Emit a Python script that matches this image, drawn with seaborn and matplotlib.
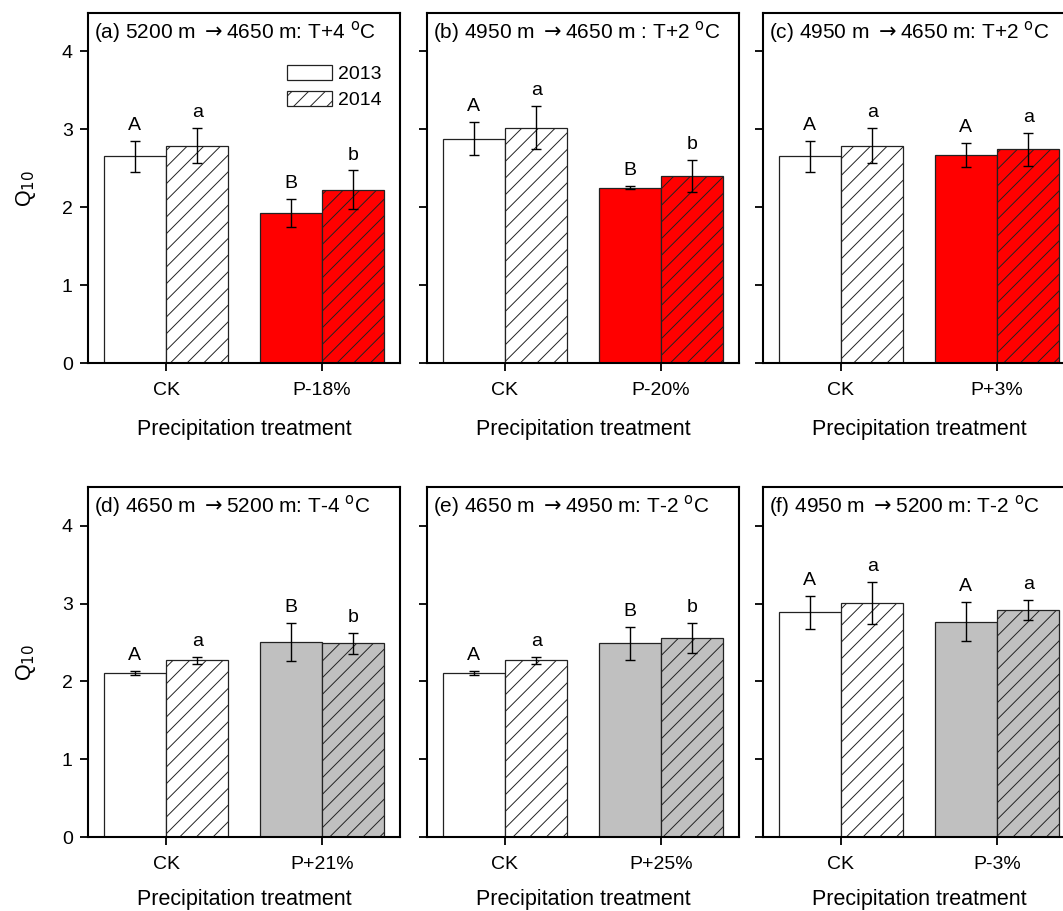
import matplotlib
matplotlib.use("Agg")
import matplotlib.pyplot as plt
from matplotlib.patches import Patch
import seaborn as sns
import pandas as pd
import numpy as np

# ---------------- data ----------------
panel_titles = [
    r"(a) 5200 m $\rightarrow$4650 m: T+4 $^{\rm o}$C",
    r"(b) 4950 m $\rightarrow$4650 m : T+2 $^{\rm o}$C",
    r"(c) 4950 m $\rightarrow$4650 m: T+2 $^{\rm o}$C",
    r"(d) 4650 m $\rightarrow$5200 m: T-4 $^{\rm o}$C",
    r"(e) 4650 m $\rightarrow$4950 m: T-2 $^{\rm o}$C",
    r"(f) 4950 m $\rightarrow$5200 m: T-2 $^{\rm o}$C",
]
treatments = ["P-18%", "P-20%", "P+3%", "P+21%", "P+25%", "P-3%"]
years = ["2013", "2014"]

ck_2013 = [2.65, 2.88, 2.65, 2.11, 2.11, 2.89]
ck_2013_err = [0.20, 0.21, 0.20, 0.03, 0.03, 0.21]
ck_2014 = [2.79, 3.02, 2.79, 2.27, 2.27, 3.01]
ck_2014_err = [0.22, 0.28, 0.22, 0.04, 0.04, 0.27]
trt_2013 = [1.92, 2.25, 2.67, 2.51, 2.49, 2.77]
trt_2013_err = [0.18, 0.02, 0.15, 0.245, 0.215, 0.25]
trt_2014 = [2.22, 2.40, 2.74, 2.49, 2.56, 2.92]
trt_2014_err = [0.25, 0.21, 0.21, 0.135, 0.195, 0.13]

ck_2013_letter = ["A", "A", "A", "A", "A", "A"]
ck_2014_letter = ["a", "a", "a", "a", "a", "a"]
trt_2013_letter = ["B", "B", "A", "B", "B", "A"]
trt_2014_letter = ["b", "b", "a", "b", "b", "a"]

trt_colors = ["#FF0000", "#FF0000", "#FF0000", "#C0C0C0", "#C0C0C0", "#C0C0C0"]

# ---------------- style ----------------
sns.set_theme(style="ticks")
plt.rcParams["font.family"] = ["Liberation Sans", "DejaVu Sans"]
plt.rcParams["hatch.linewidth"] = 0.7
plt.rcParams["hatch.color"] = "black"
plt.rcParams["axes.linewidth"] = 1.5
for k in ["text.color", "axes.labelcolor", "xtick.color", "ytick.color",
          "axes.edgecolor", "xtick.labelcolor", "ytick.labelcolor"]:
    plt.rcParams[k] = "black"

W, H = 1063, 911
fig = plt.figure(figsize=(W / 100, H / 100), dpi=100)

col_left = [88, 427, 763]
col_w = 312
row_top = [13, 487]
row_h = 350

for i in range(6):
    r, c = divmod(i, 3)
    left = col_left[c] / W
    bottom = 1 - (row_top[r] + row_h) / H
    ax = fig.add_axes([left, bottom, col_w / W, row_h / H])

    order = ["CK", treatments[i]]
    df = pd.DataFrame({
        "treatment": ["CK", "CK", treatments[i], treatments[i]],
        "year": ["2013", "2014", "2013", "2014"],
        "q10": [ck_2013[i], ck_2014[i], trt_2013[i], trt_2014[i]],
    })
    sns.barplot(data=df, x="treatment", y="q10", hue="year", order=order,
                hue_order=years, errorbar=None, width=0.8, saturation=1,
                palette=["white", "white"], edgecolor="#222222", linewidth=0.9,
                legend=False, ax=ax)

    vals = [ck_2013[i], ck_2014[i], trt_2013[i], trt_2014[i]]
    errs = [ck_2013_err[i], ck_2014_err[i], trt_2013_err[i], trt_2014_err[i]]
    lets = [ck_2013_letter[i], ck_2014_letter[i], trt_2013_letter[i], trt_2014_letter[i]]
    faces = ["white", "white", trt_colors[i], trt_colors[i]]
    hatches = [None, "//", None, "//"]

    bars = sorted(ax.patches, key=lambda p: p.get_x())
    for b, v, e, lt, fc, ht in zip(bars, vals, errs, lets, faces, hatches):
        b.set_facecolor(fc)
        b.set_edgecolor("#222222")
        if ht:
            b.set_hatch(ht)
        xc = b.get_x() + b.get_width() / 2
        ax.errorbar(xc, v, yerr=e, fmt="none", ecolor="black", elinewidth=1.0,
                    capsize=3.3, capthick=1.0, zorder=5)
        ax.text(xc, v + e + 0.14, lt, ha="center", va="baseline", fontsize=14)

    ax.set_xlim(-0.5, 1.5)
    ax.set_ylim(0, 4.49 if r == 0 else 4.5)
    ax.set_yticks([0, 1, 2, 3, 4])
    if c == 0:
        ax.set_yticklabels(["0", "1", "2", "3", "4"])
        ax.set_ylabel("Q$_{10}$", fontsize=15.5, labelpad=17)
    else:
        ax.set_yticklabels([])
        ax.set_ylabel("")
    ax.set_xlabel("Precipitation treatment", fontsize=15.5,
                  labelpad=14 if r == 0 else 11)
    ax.tick_params(axis="both", direction="out", length=6, width=1.3,
                   labelsize=14, top=False, right=False)
    ax.tick_params(axis="x", pad=8)
    ax.tick_params(axis="y", pad=5)
    for s in ax.spines.values():
        s.set_visible(True)
        s.set_linewidth(1.5)
        s.set_color("black")

    ax.text(0.02, 0.946, panel_titles[i], transform=ax.transAxes,
            ha="left", va="center", fontsize=15)

    if i == 0:
        handles = [Patch(facecolor="white", edgecolor="#222222", linewidth=0.9, label="2013"),
                   Patch(facecolor="white", edgecolor="#222222", linewidth=0.9, hatch="//", label="2014")]
        ax.legend(handles=handles, loc="upper right", bbox_to_anchor=(0.965, 0.875),
                  frameon=False, fontsize=14, handlelength=2.3, handleheight=0.85,
                  handletextpad=0.3, labelspacing=0.4, borderaxespad=0)

fig.savefig("out.png", dpi=100)
